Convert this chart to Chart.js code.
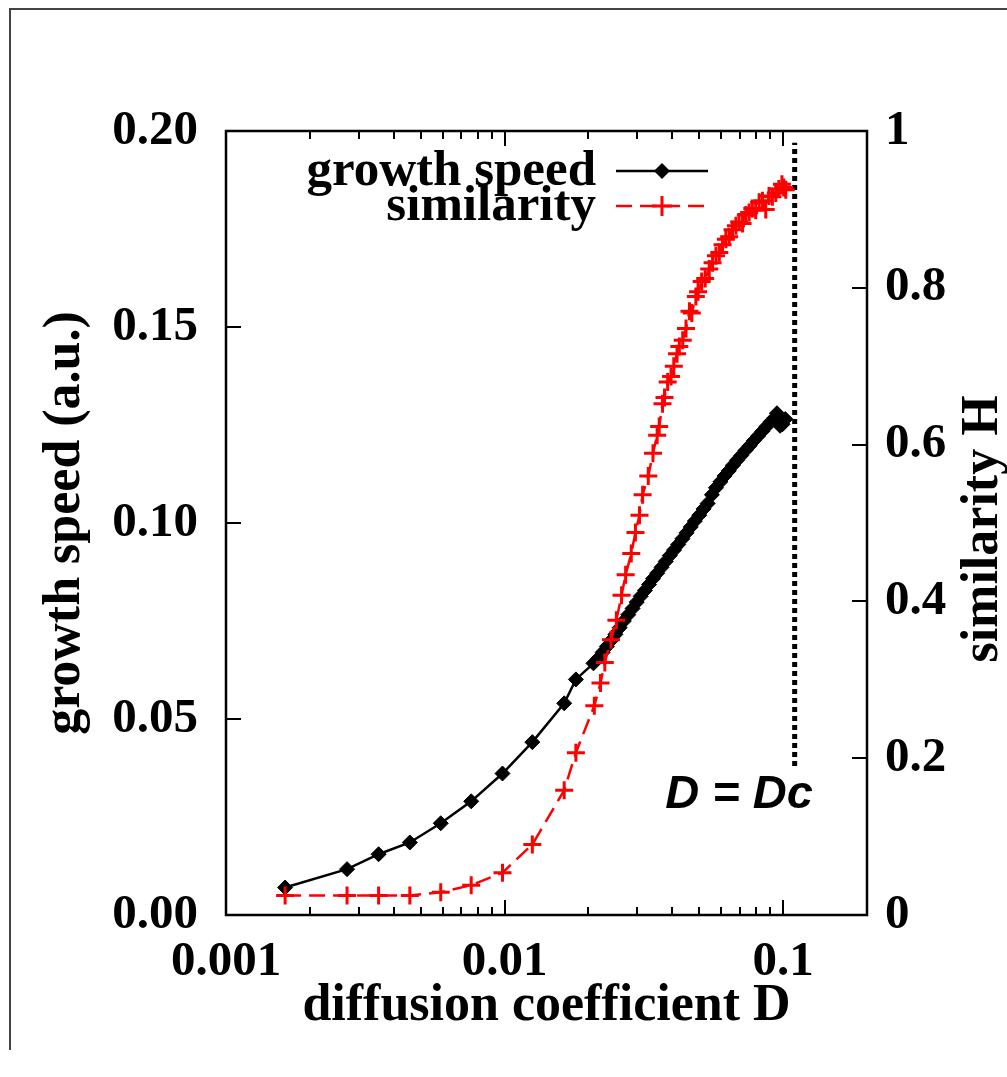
<!DOCTYPE html>
<html>
<head>
<meta charset="utf-8">
<title>growth speed / similarity vs diffusion coefficient</title>
<script src="https://cdn.jsdelivr.net/npm/chart.js@4"></script>
<style>
    html, body { margin: 0; padding: 0; background: #fff; }
    #wrap { width: 1007px; height: 1077px; position: relative; }
</style>
</head>
<body>
<div id="wrap"><canvas id="chart" width="1007" height="1077"></canvas></div>
<script>
// growth speed (left axis)
const speedD = [0.00163, 0.00272, 0.00353, 0.00457, 0.0059, 0.00759, 0.00983, 0.01258, 0.01637, 0.01803, 0.02085,
    0.0217, 0.0225, 0.0233, 0.0241, 0.0250, 0.0259, 0.0268, 0.0278, 0.0288, 0.0298, 0.0308, 0.0319, 0.0330, 0.0341,
    0.0353, 0.0366, 0.0379, 0.0392, 0.0406, 0.0420, 0.0435, 0.0450, 0.0466, 0.0482, 0.0500, 0.0518, 0.0536, 0.0555,
    0.0574, 0.0595, 0.0616, 0.0638, 0.0660, 0.0683, 0.0707, 0.0732, 0.0758, 0.0785, 0.0813, 0.0842, 0.0871, 0.0901,
    0.0930, 0.0950, 0.0975, 0.0995, 0.1018];
const speedV = [0.0070, 0.0117, 0.0155, 0.0185, 0.0234, 0.0290, 0.0361, 0.0441, 0.0540, 0.0601, 0.0642,
    0.0655, 0.0670, 0.0685, 0.0700, 0.0716, 0.0733, 0.0750, 0.0766, 0.0782, 0.0798, 0.0813, 0.0828, 0.0843, 0.0858,
    0.0872, 0.0887, 0.0902, 0.0917, 0.0931, 0.0945, 0.0960, 0.0975, 0.0990, 0.1005, 0.1020, 0.1036, 0.1050, 0.1072,
    0.1090, 0.1105, 0.1120, 0.1133, 0.1147, 0.1160, 0.1172, 0.1185, 0.1197, 0.1210, 0.1222, 0.1234, 0.1246, 0.1258,
    0.1268, 0.1280, 0.1248, 0.1252, 0.1265];

// similarity H (right axis)
const simD = [0.00163, 0.00272, 0.00353, 0.00457, 0.0059, 0.00759, 0.00983, 0.01258, 0.01637, 0.01803,
    0.0210, 0.0221, 0.0229, 0.0241, 0.0252, 0.0263, 0.0272, 0.0285, 0.0295, 0.0305, 0.0313, 0.0328, 0.0341, 0.0353,
    0.0359, 0.0369, 0.0375, 0.0385, 0.0396, 0.0405, 0.0416, 0.0424, 0.0436, 0.0448, 0.0461, 0.0470, 0.0486, 0.0495,
    0.0510, 0.0525, 0.0543, 0.0558, 0.0574, 0.0590, 0.0606, 0.0623, 0.0640, 0.0658, 0.0677, 0.0695, 0.0715, 0.0735,
    0.0755, 0.0775, 0.0797, 0.0820, 0.0843, 0.0866, 0.0890, 0.0915, 0.0941, 0.0965, 0.0990, 0.1005, 0.1022];
const simH = [0.025, 0.025, 0.025, 0.025, 0.029, 0.038, 0.054, 0.090, 0.159, 0.207,
    0.267, 0.296, 0.322, 0.351, 0.376, 0.408, 0.434, 0.461, 0.488, 0.510, 0.536, 0.560, 0.589, 0.612,
    0.623, 0.652, 0.660, 0.680, 0.687, 0.700, 0.716, 0.725, 0.733, 0.748, 0.770, 0.768, 0.789, 0.795,
    0.808, 0.812, 0.824, 0.832, 0.841, 0.845, 0.855, 0.862, 0.865, 0.874, 0.879, 0.884, 0.882, 0.893,
    0.896, 0.901, 0.899, 0.909, 0.911, 0.900, 0.917, 0.916, 0.921, 0.926, 0.932, 0.928, 0.925];

// D = Dc marker line
const dcD = [0.11, 0.11];
const dcH = [0.19, 0.985];

// axes
const xTickValues = [0.001, 0.002, 0.003, 0.004, 0.005, 0.006, 0.007, 0.008, 0.009,
    0.01, 0.02, 0.03, 0.04, 0.05, 0.06, 0.07, 0.08, 0.09, 0.1, 0.2];
const xTickLabels = [0.001, 0.01, 0.1];
const speedTicks = [0, 0.05, 0.10, 0.15, 0.20];
const simTicks = [0, 0.2, 0.4, 0.6, 0.8, 1];

const serif = '"Liberation Serif", "Times New Roman", serif';
const toPoints = (xs, ys) => xs.map((x, i) => ({ x: x, y: ys[i] }));

// frame, inward ticks, legend, extra labels (gnuplot look)
const gnuplotBits = {
    id: 'gnuplotBits',
    afterDraw(chart) {
        const ctx = chart.ctx;
        const a = chart.chartArea;
        const sx = chart.scales.x, sy = chart.scales.y, sy2 = chart.scales.y2;
        ctx.save();

        // outer page border
        ctx.strokeStyle = '#444';
        ctx.lineWidth = 2;
        ctx.beginPath();
        ctx.moveTo(10, 1050); ctx.lineTo(10, 9); ctx.lineTo(1007, 9);
        ctx.stroke();

        // plot frame
        ctx.strokeStyle = '#000';
        ctx.lineWidth = 2.5;
        ctx.strokeRect(a.left, a.top, a.right - a.left, a.bottom - a.top);

        // ticks pointing inward
        ctx.lineWidth = 2;
        ctx.beginPath();
        xTickValues.forEach(v => {
            const px = Math.round(sx.getPixelForValue(v));
            const len = xTickLabels.includes(v) ? 15 : 8;
            ctx.moveTo(px, a.bottom); ctx.lineTo(px, a.bottom - len);
            ctx.moveTo(px, a.top); ctx.lineTo(px, a.top + len);
        });
        speedTicks.forEach(v => {
            const py = Math.round(sy.getPixelForValue(v));
            ctx.moveTo(a.left, py); ctx.lineTo(a.left + 15, py);
        });
        simTicks.forEach(v => {
            const py = Math.round(sy2.getPixelForValue(v));
            ctx.moveTo(a.right, py); ctx.lineTo(a.right - 15, py);
        });
        ctx.stroke();

        // right axis title, reading bottom to top
        ctx.fillStyle = '#000';
        ctx.font = 'bold 52px ' + serif;
        ctx.textAlign = 'center';
        ctx.textBaseline = 'middle';
        ctx.save();
        ctx.translate(984, (a.top + a.bottom) / 2 + 6);
        ctx.rotate(-Math.PI / 2);
        ctx.fillText('similarity H', 0, 0);
        ctx.restore();

        // legend
        ctx.font = 'bold 51px ' + serif;
        ctx.textAlign = 'right';
        ctx.fillText('growth speed', 596, 172);
        ctx.fillText('similarity', 596, 207);

        ctx.lineWidth = 2.5;
        ctx.strokeStyle = '#000';
        ctx.beginPath(); ctx.moveTo(616, 171); ctx.lineTo(708, 171); ctx.stroke();
        ctx.beginPath();
        ctx.moveTo(662, 163); ctx.lineTo(670, 171); ctx.lineTo(662, 179); ctx.lineTo(654, 171);
        ctx.closePath(); ctx.fill();

        ctx.strokeStyle = '#ff0000';
        ctx.lineWidth = 2.5;
        ctx.setLineDash([16, 8]);
        ctx.beginPath(); ctx.moveTo(616, 206); ctx.lineTo(708, 206); ctx.stroke();
        ctx.setLineDash([]);
        ctx.lineWidth = 3;
        ctx.beginPath();
        ctx.moveTo(652, 206); ctx.lineTo(672, 206);
        ctx.moveTo(662, 196); ctx.lineTo(662, 216);
        ctx.stroke();

        // D = Dc label
        ctx.fillStyle = '#000';
        ctx.font = 'italic bold 47px "Liberation Sans", Arial, sans-serif';
        ctx.textAlign = 'center';
        ctx.textBaseline = 'middle';
        ctx.fillText('D = Dc', sx.getPixelForValue(0.0695), sy2.getPixelForValue(0.153));

        ctx.restore();
    }
};

new Chart(document.getElementById('chart'), {
    type: 'line',
    data: {
        datasets: [
            {
                label: 'similarity',
                data: toPoints(simD, simH),
                yAxisID: 'y2',
                borderColor: '#ff0000',
                backgroundColor: '#ff0000',
                borderWidth: 2.5,
                borderDash: [16, 8],
                pointStyle: 'cross',
                pointRadius: 9,
                pointBorderWidth: 3,
                tension: 0
            },
            {
                label: 'growth speed',
                data: toPoints(speedD, speedV),
                yAxisID: 'y',
                borderColor: '#000',
                backgroundColor: '#000',
                borderWidth: 2.5,
                pointStyle: 'rectRot',
                pointRadius: 7.5,
                pointBorderWidth: 1,
                tension: 0
            },
            {
                label: 'D = Dc',
                data: toPoints(dcD, dcH),
                yAxisID: 'y2',
                borderColor: '#000',
                borderWidth: 5,
                borderDash: [5, 4],
                pointRadius: 0,
                tension: 0
            }
        ]
    },
    options: {
        responsive: false,
        animation: false,
        layout: { padding: { top: 131, left: 0, right: 0, bottom: 0 } },
        plugins: { legend: { display: false }, tooltip: { enabled: false } },
        scales: {
            x: {
                type: 'logarithmic',
                min: 0.001,
                max: 0.2,
                afterBuildTicks: s => { s.ticks = xTickValues.map(v => ({ value: v })); },
                afterFit: s => { s.height = 162; },
                grid: { display: false },
                border: { display: false },
                ticks: {
                    autoSkip: false,
                    maxRotation: 0,
                    padding: 10,
                    color: '#000',
                    font: { family: serif, size: 49, weight: 'bold' },
                    callback: v => xTickLabels.includes(v) ? String(v) : ''
                },
                title: {
                    display: true,
                    text: 'diffusion coefficient D',
                    color: '#000',
                    font: { family: serif, size: 52, weight: 'bold' },
                    padding: { top: 0, bottom: 39 }
                }
            },
            y: {
                position: 'left',
                min: 0,
                max: 0.2,
                afterBuildTicks: s => { s.ticks = speedTicks.map(v => ({ value: v })); },
                afterFit: s => { s.width = 226; },
                grid: { display: false },
                border: { display: false },
                ticks: {
                    padding: 20,
                    color: '#000',
                    font: { family: serif, size: 49, weight: 'bold' },
                    callback: v => v.toFixed(2)
                },
                title: {
                    display: true,
                    text: 'growth speed (a.u.)',
                    color: '#000',
                    font: { family: serif, size: 52, weight: 'bold' },
                    padding: { top: 34, bottom: 0 }
                }
            },
            y2: {
                position: 'right',
                min: 0,
                max: 1,
                afterBuildTicks: s => { s.ticks = simTicks.map(v => ({ value: v })); },
                afterFit: s => { s.width = 140; },
                grid: { display: false },
                border: { display: false },
                ticks: {
                    padding: 10,
                    color: '#000',
                    font: { family: serif, size: 49, weight: 'bold' },
                    callback: v => String(v)
                }
            }
        }
    },
    plugins: [gnuplotBits]
});
</script>
</body>
</html>
